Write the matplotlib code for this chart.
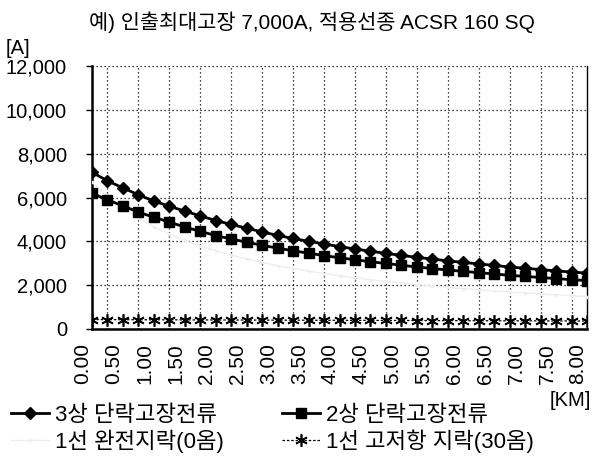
import matplotlib
matplotlib.use("Agg")
import matplotlib.pyplot as plt
import matplotlib.transforms as mtransforms
from matplotlib.ticker import FuncFormatter, FixedLocator

plt.rcParams['font.family'] = ['Liberation Sans', 'Noto Sans CJK KR', 'DejaVu Sans']

# distance along the feeder [km], 0.25 km steps
distance = [0.00, 0.25, 0.50, 0.75, 1.00, 1.25, 1.50, 1.75, 2.00, 2.25, 2.50,
            2.75, 3.00, 3.25, 3.50, 3.75, 4.00, 4.25, 4.50, 4.75, 5.00, 5.25,
            5.50, 5.75, 6.00, 6.25, 6.50, 6.75, 7.00, 7.25, 7.50, 7.75, 8.00]

# fault currents [A]
three_phase = [7150, 6760, 6440, 6120, 5840, 5600, 5380, 5160, 4950, 4770, 4600,
               4430, 4270, 4130, 4000, 3880, 3760, 3650, 3550, 3450, 3360, 3270,
               3190, 3110, 3040, 2970, 2900, 2830, 2770, 2710, 2650, 2600, 2550]
two_phase = [6190, 5890, 5620, 5330, 5100, 4880, 4650, 4460, 4260, 4110, 3960,
             3820, 3690, 3570, 3460, 3350, 3250, 3160, 3070, 2990, 2910, 2830,
             2760, 2690, 2630, 2570, 2510, 2450, 2400, 2350, 2300, 2250, 2210]
line_ground_0ohm = [6700, 6050, 5500, 5050, 4660, 4330, 4040, 3790, 3570, 3370,
                    3200, 3040, 2890, 2760, 2640, 2530, 2430, 2340, 2250, 2170,
                    2100, 2030, 1960, 1900, 1840, 1790, 1740, 1690, 1640, 1600,
                    1560, 1520, 1480]
line_ground_30ohm = [430, 428, 425, 423, 420, 418, 416, 414, 412, 410, 408,
                     406, 404, 402, 400, 398, 396, 394, 392, 390, 388, 386,
                     384, 382, 380, 378, 376, 374, 372, 370, 368, 366, 364]

series_labels = ['3상 단락고장전류', '2상 단락고장전류',
                 '1선 완전지락(0옴)', '1선 고저항 지락(30옴)']
y_ticks = [0, 2000, 4000, 6000, 8000, 10000, 12000]

fig = plt.figure(figsize=(5.94, 4.65), dpi=100)
ax = fig.add_axes([92 / 594, 1 - 329 / 465, (587 - 92) / 594, (329 - 66) / 465])

idx = list(range(len(distance)))

h3, = ax.plot(idx, three_phase, color='black', lw=2.0, marker='D',
              markersize=6.5, label=series_labels[0], zorder=5)
h2, = ax.plot(idx, two_phase, color='black', lw=2.0, marker='s',
              markersize=7, label=series_labels[1], zorder=5)
h0, = ax.plot(idx, line_ground_0ohm, color='#eeeeee', lw=1.0, marker='.',
              markersize=3, label=series_labels[2], zorder=3)
h30, = ax.plot(idx, line_ground_30ohm, color='black', lw=0.9, ls=(0, (2, 1.5)),
               marker=(6, 2, 0), markersize=9, markeredgewidth=1.2,
               label=series_labels[3], zorder=5)

ax.set_xlim(0, len(distance) - 1)
ax.set_ylim(0, 12000)

# dotted grid at every category and every 2,000 A
ax.xaxis.set_minor_locator(FixedLocator(idx))
ax.grid(True, which='minor', axis='x', color='black', ls=(0, (1, 2.2)), lw=0.9)
ax.grid(True, which='major', axis='y', color='black', ls=(0, (1, 2.2)), lw=0.9)
ax.set_axisbelow(True)

ax.set_yticks(y_ticks)
ax.yaxis.set_major_formatter(FuncFormatter(lambda v, p: f"{int(v):,}"))
ax.tick_params(axis='y', direction='out', length=4, width=1, pad=14,
               labelsize=14.5)

label_idx = idx[::2]
ax.set_xticks(label_idx)
ax.set_xticklabels([f"{distance[i]:.2f}" for i in label_idx], rotation=90,
                   fontsize=15)
ax.tick_params(axis='x', which='both', length=0, pad=10)
shift = mtransforms.ScaledTranslation(-9 / 100, 0, fig.dpi_scale_trans)
for lab in ax.get_xticklabels():
    lab.set_transform(lab.get_transform() + shift)

for side in ['left', 'bottom']:
    ax.spines[side].set_linewidth(1.8)
ax.spines['right'].set_linewidth(1.0)
ax.spines['top'].set_visible(False)

fig.text(312 / 594, 1 - 22 / 465, '예) 인출최대고장 7,000A, 적용선종 ACSR 160 SQ',
         ha='center', va='center', fontsize=15)
fig.text(6 / 594, 1 - 48 / 465, '[A]', ha='left', va='center', fontsize=14.5)
fig.text(591 / 594, 1 - 400 / 465, '[KM]', ha='right', va='center', fontsize=14.5)

leg = fig.legend(handles=[h3, h0, h2, h30], ncol=2, loc='upper left',
                 bbox_to_anchor=(2 / 594, 1 - 396 / 465), frameon=False,
                 fontsize=16, handlelength=1.7, handletextpad=0.3,
                 columnspacing=2.6, labelspacing=0.15, borderaxespad=0)

fig.savefig('out.png', dpi=100)
